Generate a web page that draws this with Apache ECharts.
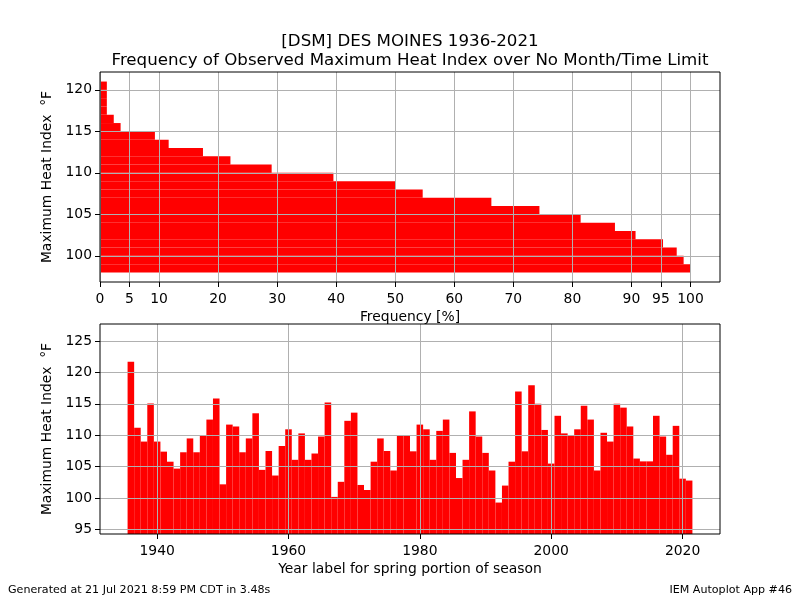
<!DOCTYPE html>
<html>
<head>
<meta charset="utf-8">
<script src="https://cdn.jsdelivr.net/npm/echarts@6/dist/echarts.min.js"></script>
<style>
  html, body { margin: 0; padding: 0; background: #fff; }
  #chart { width: 800px; height: 600px; }
</style>
</head>
<body>
<div id="chart"></div>
<script>
// top panel: lower edge of each 1 F bin and share of years reaching it
var levels = [98, 99, 100, 101, 102, 103, 104, 105, 106, 107, 108, 109,
  110, 111, 112, 113, 114, 115, 116, 117, 118, 119, 120];
var freqPct = [100, 98.84, 97.67, 95.35, 90.70, 87.21, 81.40, 74.42, 66.28, 54.65, 50.00, 39.53,
  29.07, 22.09, 17.44, 11.63, 9.30, 3.49, 2.33, 1.16, 1.16, 1.16, 1.16];

// bottom panel: yearly maximum heat index
var years = [1936, 1937, 1938, 1939, 1940, 1941, 1942, 1943, 1944, 1945,
  1946, 1947, 1948, 1949, 1950, 1951, 1952, 1953, 1954, 1955,
  1956, 1957, 1958, 1959, 1960, 1961, 1962, 1963, 1964, 1965,
  1966, 1967, 1968, 1969, 1970, 1971, 1972, 1973, 1974, 1975,
  1976, 1977, 1978, 1979, 1980, 1981, 1982, 1983, 1984, 1985,
  1986, 1987, 1988, 1989, 1990, 1991, 1992, 1993, 1994, 1995,
  1996, 1997, 1998, 1999, 2000, 2001, 2002, 2003, 2004, 2005,
  2006, 2007, 2008, 2009, 2010, 2011, 2012, 2013, 2014, 2015,
  2016, 2017, 2018, 2019, 2020, 2021];
var maxHeat = [121.7, 111.2, 109.0, 115.05, 109.0, 107.4, 105.8, 104.7, 107.3, 109.5,
  107.3, 109.9, 112.5, 115.85, 102.2, 111.7, 111.4, 107.3, 109.5, 113.5,
  104.5, 107.5, 103.6, 108.3, 110.95, 106.1, 110.3, 106.1, 107.1, 109.8,
  115.2, 100.2, 102.6, 112.3, 113.6, 102.1, 101.3, 105.8, 109.5, 107.5,
  104.4, 110.0, 109.9, 107.45, 111.7, 110.95, 106.1, 110.7, 112.5, 107.2,
  103.2, 106.1, 113.8, 109.8, 107.2, 104.4, 99.3, 102.0, 105.8, 116.95,
  107.45, 117.95, 115.0, 110.85, 105.5, 113.1, 110.3, 110.0, 110.95, 114.7,
  112.5, 104.4, 110.4, 109.0, 115.0, 114.4, 111.4, 106.3, 105.85, 105.85,
  113.1, 109.8, 106.9, 111.5, 103.1, 102.8];

var freqTicks = [0, 5, 10, 20, 30, 40, 50, 60, 70, 80, 90, 95, 100];
var heatTicksTop = [100, 105, 110, 115, 120];
var heatTicksBottom = [95, 100, 105, 110, 115, 120, 125];
var yearTicks = [1940, 1960, 1980, 2000, 2020];

var FONT = 'DejaVu Sans';
var BOT_MIN = 94.3;

var topData = levels.map(function (l, i) { return [l, freqPct[i]]; });
var botData = years.map(function (y, i) { return [y, maxHeat[i]]; });

function hBar(params, api) {
  var lo = api.value(0);
  var a = api.coord([0, lo + 1]);
  var b = api.coord([api.value(1), lo]);
  return {
    type: 'rect',
    shape: { x: a[0], y: a[1], width: b[0] - a[0], height: b[1] - a[1] },
    style: { fill: '#ff0000' }
  };
}

function vBar(params, api) {
  var yr = api.value(0);
  var a = api.coord([yr - 0.5, api.value(1)]);
  var b = api.coord([yr + 0.5, BOT_MIN]);
  return {
    type: 'rect',
    shape: { x: a[0], y: a[1], width: b[0] - a[0], height: b[1] - a[1] },
    style: { fill: '#ff0000' }
  };
}

function axisCommon(ticks, margin) {
  return {
    z: 10,
    axisLine: { show: false },
    axisTick: { show: true, inside: false, length: 5, customValues: ticks,
      lineStyle: { color: '#000', width: 1 } },
    axisLabel: { customValues: ticks, color: '#000', fontFamily: FONT, fontSize: 13.9,
      margin: margin, formatter: function (v) { return String(v); } },
    splitLine: { show: true, lineStyle: { color: '#b0b0b0', width: 1 } },
    nameTextStyle: { color: '#000', fontFamily: FONT, fontSize: 13.9 }
  };
}

function merge(a, b) {
  for (var k in b) a[k] = b[k];
  return a;
}

var chart = echarts.init(document.getElementById('chart'));

chart.setOption({
  animation: false,
  backgroundColor: '#fff',
  title: [{
    text: '[DSM] DES MOINES 1936-2021\nFrequency of Observed Maximum Heat Index over No Month/Time Limit',
    left: 410, top: 32, textAlign: 'center', padding: 0,
    textStyle: { fontFamily: FONT, fontSize: 16.67, fontWeight: 'normal', color: '#000', lineHeight: 19 }
  }, {
    text: 'Generated at 21 Jul 2021 8:59 PM CDT in 3.48s',
    left: 8, top: 585, padding: 0,
    textStyle: { fontFamily: FONT, fontSize: 11.1, fontWeight: 'normal', color: '#000' }
  }, {
    text: 'IEM Autoplot App #46',
    right: 8, top: 585, padding: 0,
    textStyle: { fontFamily: FONT, fontSize: 11.1, fontWeight: 'normal', color: '#000' }
  }],
  grid: [
    { left: 100, top: 72, width: 620, height: 210, show: true, z: 11,
      borderColor: '#000', borderWidth: 1, backgroundColor: 'transparent' },
    { left: 100, top: 324, width: 620, height: 210, show: true, z: 11,
      borderColor: '#000', borderWidth: 1, backgroundColor: 'transparent' }
  ],
  xAxis: [
    merge(axisCommon(freqTicks, 10), {
      type: 'value', gridIndex: 0, min: 0, max: 105,
      name: 'Frequency [%]', nameLocation: 'middle', nameGap: 28
    }),
    merge(axisCommon(yearTicks, 10), {
      type: 'value', gridIndex: 1, min: 1931.3, max: 2025.7,
      name: 'Year label for spring portion of season', nameLocation: 'middle', nameGap: 28
    })
  ],
  yAxis: [
    merge(axisCommon(heatTicksTop, 8), {
      type: 'value', gridIndex: 0, min: 96.85, max: 122.15,
      name: 'Maximum Heat Index  \u00b0F', nameLocation: 'middle', nameGap: 44
    }),
    merge(axisCommon(heatTicksBottom, 8), {
      type: 'value', gridIndex: 1, min: BOT_MIN, max: 127.7,
      name: 'Maximum Heat Index  \u00b0F', nameLocation: 'middle', nameGap: 44
    })
  ],
  series: [{
    type: 'custom', xAxisIndex: 0, yAxisIndex: 0,
    renderItem: hBar, data: topData, clip: true
  }, {
    type: 'custom', xAxisIndex: 1, yAxisIndex: 1,
    renderItem: vBar, data: botData, clip: true
  }]
});
</script>
</body>
</html>
